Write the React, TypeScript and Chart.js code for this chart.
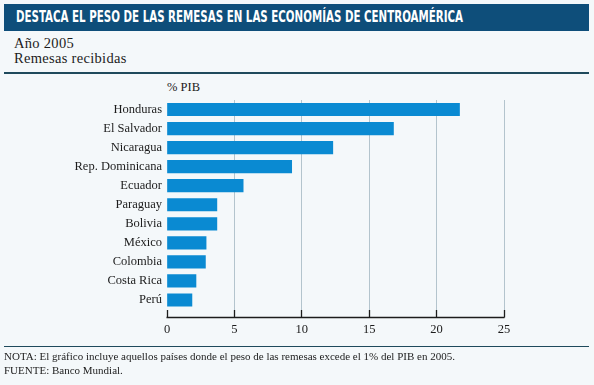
import React, { useEffect, useLayoutEffect, useRef } from 'react';
import { Chart, registerables } from 'chart.js';

Chart.register(...registerables);

// ---- data ----
const countries = [
  'Honduras',
  'El Salvador',
  'Nicaragua',
  'Rep. Dominicana',
  'Ecuador',
  'Paraguay',
  'Bolivia',
  'México',
  'Colombia',
  'Costa Rica',
  'Perú',
];
const remittancesPctGdp = [21.7, 16.8, 12.3, 9.25, 5.65, 3.7, 3.7, 2.9, 2.85, 2.15, 1.85];
const xTickValues = [0, 5, 10, 15, 20, 25];

const titleText = 'DESTACA EL PESO DE LAS REMESAS EN LAS ECONOMÍAS DE CENTROAMÉRICA';
const subtitleLines = ['Año 2005', 'Remesas recibidas'];
const unitLabel = '% PIB';
const noteLines = [
  'NOTA: El gráfico incluye aquellos países donde el peso de las remesas excede el 1% del PIB en 2005.',
  'FUENTE: Banco Mundial.',
];

// ---- styles ----
const BG = '#f4f8fa';
const TITLE_BG = '#0e4e7a';
const BAR = '#0a8ad2';
const GRID = '#b3c4cd';
const INK = '#1c1c1c';
const RULE = '#1f4a5c';
const SERIF = '"Liberation Serif", Tinos, "Times New Roman", serif';
const TICK_LEN = 8;

const axisLinePlugin = {
  id: 'axisLine',
  afterDraw(chart: any) {
    const xs = chart.scales.x;
    const ctx = chart.ctx;
    const y = xs.top + TICK_LEN;
    ctx.save();
    ctx.strokeStyle = INK;
    ctx.lineWidth = 1.5;
    ctx.beginPath();
    ctx.moveTo(xs.getPixelForValue(xTickValues[0]) - 0.5, y);
    ctx.lineTo(xs.getPixelForValue(xTickValues[xTickValues.length - 1]) + 0.5, y);
    ctx.stroke();
    ctx.restore();
  },
};

export default function App() {
  const canvasRef = useRef<HTMLCanvasElement | null>(null);
  const titleRef = useRef<HTMLSpanElement | null>(null);

  useLayoutEffect(() => {
    const el = titleRef.current;
    if (el) {
      const w = el.offsetWidth;
      if (w > 0) el.style.transform = `scaleX(${447 / w})`;
    }
  }, []);

  useEffect(() => {
    if (!canvasRef.current) return;
    const chart = new Chart(canvasRef.current, {
      type: 'bar',
      data: {
        labels: countries,
        datasets: [
          {
            data: remittancesPctGdp,
            backgroundColor: BAR,
            borderWidth: 0,
            barThickness: 12.5,
          },
        ],
      },
      plugins: [axisLinePlugin],
      options: {
        indexAxis: 'y',
        responsive: false,
        animation: false,
        devicePixelRatio: 1,
        layout: { padding: { top: 100, right: 90, bottom: 45.5, left: 0 } },
        plugins: {
          legend: { display: false },
          tooltip: { enabled: false },
          title: { display: false },
        },
        scales: {
          x: {
            type: 'linear',
            min: 0,
            max: 25,
            afterFit: (s: any) => {
              s.height = 30;
            },
            afterBuildTicks: (s: any) => {
              s.ticks = xTickValues.map((v) => ({ value: v }));
            },
            border: { display: false },
            grid: {
              color: (c: any) => (c.index === 0 ? 'rgba(0,0,0,0)' : GRID),
              lineWidth: 1,
              drawTicks: true,
              tickLength: TICK_LEN,
              tickColor: INK,
              tickWidth: 1.3,
            },
            ticks: {
              padding: 5,
              color: INK,
              font: { family: SERIF, size: 12.5 },
            },
          },
          y: {
            type: 'category',
            afterFit: (s: any) => {
              s.width = 167;
            },
            border: { display: false },
            grid: { display: false, drawTicks: false },
            ticks: {
              padding: 5,
              color: INK,
              font: { family: SERIF, size: 12.5 },
            },
          },
        },
      },
    });
    if ((document as any).fonts && (document as any).fonts.ready) {
      (document as any).fonts.ready.then(() => {
        try {
          chart.update();
        } catch (e) {
          /* chart destroyed */
        }
      });
    }
    return () => chart.destroy();
  }, []);

  return (
    <div
      style={{
        position: 'fixed',
        left: 0,
        top: 0,
        width: 594,
        height: 385,
        background: BG,
        overflow: 'hidden',
        fontFamily: SERIF,
        color: INK,
      }}
    >
      <div
        style={{
          position: 'absolute',
          left: 4,
          top: 4,
          width: 585,
          height: 27,
          background: TITLE_BG,
        }}
      />
      <span
        ref={titleRef}
        style={{
          position: 'absolute',
          left: 15.5,
          top: 9.5,
          whiteSpace: 'nowrap',
          fontFamily: '"DejaVu Sans Condensed", "Liberation Sans", sans-serif',
          fontWeight: 'bold',
          fontSize: 15,
          lineHeight: '15px',
          color: '#ffffff',
          transformOrigin: '0 0',
          display: 'inline-block',
        }}
      >
        {titleText}
      </span>
      <div
        style={{
          position: 'absolute',
          left: 14,
          top: 35.5,
          fontSize: 14.5,
          lineHeight: '15px',
          letterSpacing: 0.3,
          whiteSpace: 'nowrap',
        }}
      >
        {subtitleLines.map((l) => (
          <div key={l}>{l}</div>
        ))}
      </div>
      <div
        style={{
          position: 'absolute',
          left: 4,
          top: 72,
          width: 585,
          height: 1.5,
          background: RULE,
        }}
      />
      <div
        style={{
          position: 'absolute',
          left: 167,
          top: 80,
          fontSize: 12.5,
          lineHeight: '14px',
          whiteSpace: 'nowrap',
        }}
      >
        {unitLabel}
      </div>
      <canvas
        ref={canvasRef}
        width={594}
        height={385}
        style={{ position: 'absolute', left: 0, top: 0, width: 594, height: 385 }}
      />
      <div
        style={{
          position: 'absolute',
          left: 4,
          top: 345.5,
          width: 585,
          height: 1.5,
          background: RULE,
        }}
      />
      <div
        style={{
          position: 'absolute',
          left: 4,
          top: 349,
          fontSize: 11,
          lineHeight: '14px',
          whiteSpace: 'nowrap',
        }}
      >
        {noteLines.map((l) => (
          <div key={l}>{l}</div>
        ))}
      </div>
    </div>
  );
}
